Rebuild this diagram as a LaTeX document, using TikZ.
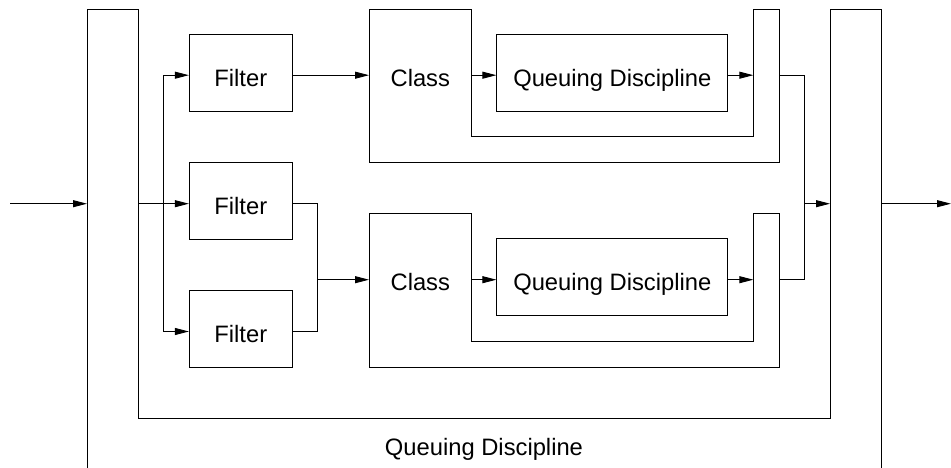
\documentclass[tikz,border=0pt]{standalone}
\usepackage{fontspec}
\setmainfont{Liberation Sans}
\usetikzlibrary{arrows.meta,positioning}
\begin{document}
\begin{tikzpicture}[x=1pt,y=-1pt,line width=0.9pt,line join=miter,>={Triangle[length=14pt,width=7pt]},
		font=\fontsize{23.75}{28}\selectfont]
	\tikzset{txt/.style={inner sep=0pt,text height=27pt,text depth=0pt},
		filterbox/.style={txt,draw,minimum width=103pt,minimum height=77pt},
		qdbox/.style={txt,draw,minimum width=231pt,minimum height=77pt}}
	\useasboundingbox (0,0) rectangle (951,468);
	% outer queuing discipline
	\draw (87,468)--(87,9)--(138,9)--(138,418.5)--(830,418.5)--(830,9)--(881,9)--(881,468);
	\node[txt] (qdlabel) at (484,441.7) {Queuing Discipline};
	\coordinate (src) at (10,203.7);
	\coordinate (qdin) at (87,203.7);
	\coordinate (qdsplit) at (138,203.7);
	\coordinate (fork) at (163.7,203.7);
	\coordinate (merge) at (317.3,279.7);
	\coordinate (join) at (804.3,203.7);
	\coordinate (qdjoin) at (830,203.7);
	\coordinate (qdout) at (881,203.7);
	\coordinate (sink) at (951,203.7);
	% filters
	\node[filterbox] (f1) at (240.8,72.7) {Filter};
	\node[filterbox] (f2) at (240.8,201.2) {Filter};
	\node[filterbox] (f3) at (240.8,329) {Filter};
	\foreach \n in {1,2,3}{
		\coordinate (f\n in) at ([yshift=-2.5pt]f\n.west);
		\coordinate (f\n out) at ([yshift=-2.5pt]f\n.east);
	}
	% classes with their queuing disciplines
	\foreach \n/\dy in {1/0,2/204.5}{
		\begin{scope}[shift={(0,\dy)}]
			\draw (369,9)--(369,162.7)--(779.3,162.7)--(779.3,9)--(753.3,9)--(753.3,136.7)--(471.7,136.7)--(471.7,9)--cycle;
			\node[txt] (class\n) at (420.3,72.7) {Class};
			\node[qdbox] (qd\n) at (612.3,72.7) {Queuing Discipline};
			\coordinate (cin\n) at (369,75.2);
			\coordinate (cmid\n) at (471.7,75.2);
			\coordinate (cbar\n) at (753.3,75.2);
			\coordinate (cout\n) at (779.3,75.2);
		\end{scope}
		\draw[->] (cmid\n) -- ([yshift=-2.5pt]qd\n.west);
		\draw[->] ([yshift=-2.5pt]qd\n.east) -- (cbar\n);
	}
	% connectors
	\draw[->] (src) -- (qdin);
	\draw[->] (qdsplit) -- (f2in);
	\draw[<->] (f1in) -| (fork) |- (f3in);
	\draw[->] (f1out) -- (cin1);
	\draw (f2out) -| (merge) |- (f3out);
	\draw[->] (merge) -- (cin2);
	\draw (cout1) -| (join) |- (cout2);
	\draw[->] (join) -- (qdjoin);
	\draw[->] (qdout) -- (sink);
\end{tikzpicture}
\end{document}
